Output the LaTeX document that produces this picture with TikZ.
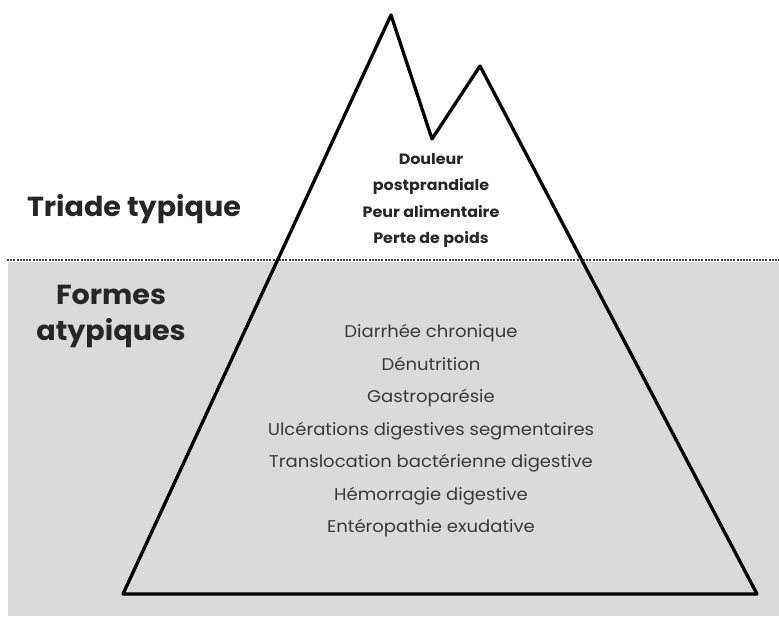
\documentclass[tikz,border=0pt]{standalone}
\usepackage{fontspec}
\setmainfont{Poppins}
\usetikzlibrary{positioning}

\definecolor{seagray}{HTML}{DADADA}
\definecolor{listgray}{HTML}{3A3A3A}

\tikzstyle{title} = [font=\fontsize{27.5}{36}\selectfont\bfseries\addfontfeature{FakeStretch=1.04}, text=black!85, align=center, inner sep=0pt]
\tikzstyle{peak} = [font=\fontsize{15}{17}\selectfont\bfseries\addfontfeature{FakeStretch=1.06}, text=black!85, text height=11pt, text depth=3pt, inner sep=0pt]
\tikzstyle{deep} = [font=\fontsize{17}{19}\selectfont\addfontfeature{FakeStretch=1.06}, text=listgray, text height=12.5pt, text depth=3.5pt, inner sep=0pt]
\tikzstyle{edge} = [line width=3.3pt, line join=round, line cap=round]

\begin{document}
\begin{tikzpicture}[x=1pt, y=-1pt]
	\useasboundingbox (0,0) rectangle (779,616);
	% Water
	\fill [seagray] (8,262) rectangle (779,616);
	\coordinate (WaterLeft) at (7,260);
	\coordinate (WaterRight) at (779,260);
	\draw [black!75, line width=2.6pt, dash pattern=on 2pt off 1.2pt] (WaterLeft) -- (WaterRight);
	% Iceberg
	\coordinate (BaseLeft) at (123,594);
	\coordinate (PeakHigh) at (391,15);
	\coordinate (Col) at (432,139);
	\coordinate (PeakLow) at (480,66);
	\coordinate (BaseRight) at (757,594);
	\draw [edge] (BaseLeft) -- (PeakHigh) -- (Col) -- (PeakLow) -- (BaseRight) -- cycle;
	% Place nodes
	\node [title] (Triade) at (134,209) {Triade typique};
	\node [title, align=center] (Formes) at (111,317) {Formes\\atypiques};
	\node [peak] (Douleur) at (431,160) {Douleur};
	\node [peak, below of=Douleur, node distance=26.5pt] (Postprandiale) {postprandiale};
	\node [peak, below of=Postprandiale, node distance=26.5pt] (Peur) {Peur alimentaire};
	\node [peak, below of=Peur, node distance=26.5pt] (Perte) {Perte de poids};
	\node [deep] (Diarrhee) at (431,333) {Diarrhée chronique};
	\node [deep, below of=Diarrhee, node distance=32.5pt] (Denutrition) {Dénutrition};
	\node [deep, below of=Denutrition, node distance=32.5pt] (Gastroparesie) {Gastroparésie};
	\node [deep, below of=Gastroparesie, node distance=32.5pt] (Ulcerations) {Ulcérations digestives segmentaires};
	\node [deep, below of=Ulcerations, node distance=32.5pt] (Translocation) {Translocation bactérienne digestive};
	\node [deep, below of=Translocation, node distance=32.5pt] (Hemorragie) {Hémorragie digestive};
	\node [deep, below of=Hemorragie, node distance=32.5pt] (Enteropathie) {Entéropathie exudative};
\end{tikzpicture}
\end{document}
